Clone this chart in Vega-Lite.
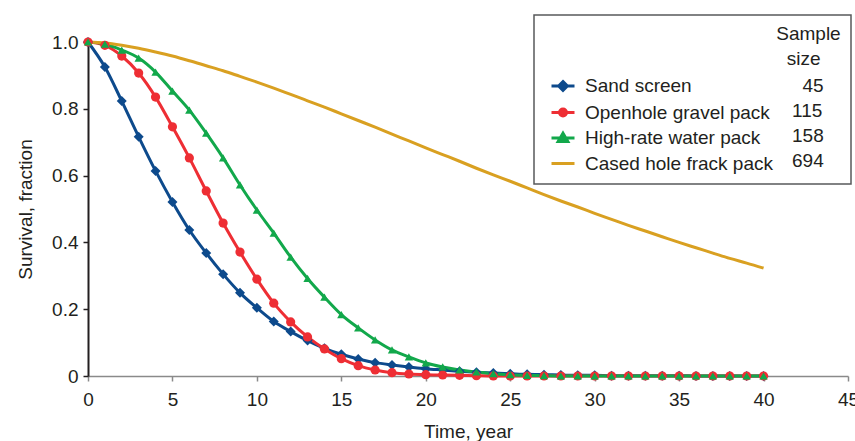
{
  "$schema": "https://vega.github.io/schema/vega-lite/v6.json",
  "width": 760,
  "height": 334,
  "autosize": {"type": "none"},
  "padding": {"left": 88, "top": 42, "right": 7, "bottom": 65},
  "background": "white",
  "config": {
    "view": {"stroke": null},
    "font": "Liberation Sans",
    "axis": {"grid": false, "labelFont": "Liberation Sans", "titleFont": "Liberation Sans", "labelFontSize": 19, "titleFontSize": 19, "titleFontWeight": "normal", "labelColor": "#231f20", "titleColor": "#231f20"},
    "legend": {"labelFont": "Liberation Sans", "titleFont": "Liberation Sans", "labelFontSize": 19, "titleFontSize": 19, "titleFontWeight": "normal", "labelColor": "#231f20", "titleColor": "#231f20"}
  },
  "data": {"values": [
    {"series":"Sand screen","n":45,"t":0,"s":1.0},{"series":"Sand screen","n":45,"t":1,"s":0.925},{"series":"Sand screen","n":45,"t":2,"s":0.823},{"series":"Sand screen","n":45,"t":3,"s":0.716},{"series":"Sand screen","n":45,"t":4,"s":0.614},{"series":"Sand screen","n":45,"t":5,"s":0.521},{"series":"Sand screen","n":45,"t":6,"s":0.437},{"series":"Sand screen","n":45,"t":7,"s":0.368},{"series":"Sand screen","n":45,"t":8,"s":0.305},{"series":"Sand screen","n":45,"t":9,"s":0.249},{"series":"Sand screen","n":45,"t":10,"s":0.204},{"series":"Sand screen","n":45,"t":11,"s":0.163},{"series":"Sand screen","n":45,"t":12,"s":0.133},{"series":"Sand screen","n":45,"t":13,"s":0.106},{"series":"Sand screen","n":45,"t":14,"s":0.083},{"series":"Sand screen","n":45,"t":15,"s":0.065},{"series":"Sand screen","n":45,"t":16,"s":0.051},{"series":"Sand screen","n":45,"t":17,"s":0.040},{"series":"Sand screen","n":45,"t":18,"s":0.033},{"series":"Sand screen","n":45,"t":19,"s":0.027},{"series":"Sand screen","n":45,"t":20,"s":0.022},{"series":"Sand screen","n":45,"t":21,"s":0.018},{"series":"Sand screen","n":45,"t":22,"s":0.014},{"series":"Sand screen","n":45,"t":23,"s":0.011},{"series":"Sand screen","n":45,"t":24,"s":0.009},{"series":"Sand screen","n":45,"t":25,"s":0.007},{"series":"Sand screen","n":45,"t":26,"s":0.005},{"series":"Sand screen","n":45,"t":27,"s":0.004},{"series":"Sand screen","n":45,"t":28,"s":0.003},{"series":"Sand screen","n":45,"t":29,"s":0.002},{"series":"Sand screen","n":45,"t":30,"s":0.002},{"series":"Sand screen","n":45,"t":31,"s":0.001},{"series":"Sand screen","n":45,"t":32,"s":0.001},{"series":"Sand screen","n":45,"t":33,"s":0.001},{"series":"Sand screen","n":45,"t":34,"s":0.001},{"series":"Sand screen","n":45,"t":35,"s":0.001},{"series":"Sand screen","n":45,"t":36,"s":0.0},{"series":"Sand screen","n":45,"t":37,"s":0.0},{"series":"Sand screen","n":45,"t":38,"s":0.0},{"series":"Sand screen","n":45,"t":39,"s":0.0},{"series":"Sand screen","n":45,"t":40,"s":0.0},
    {"series":"Openhole gravel pack","n":115,"t":0,"s":1.0},{"series":"Openhole gravel pack","n":115,"t":1,"s":0.99},{"series":"Openhole gravel pack","n":115,"t":2,"s":0.958},{"series":"Openhole gravel pack","n":115,"t":3,"s":0.907},{"series":"Openhole gravel pack","n":115,"t":4,"s":0.835},{"series":"Openhole gravel pack","n":115,"t":5,"s":0.746},{"series":"Openhole gravel pack","n":115,"t":6,"s":0.653},{"series":"Openhole gravel pack","n":115,"t":7,"s":0.554},{"series":"Openhole gravel pack","n":115,"t":8,"s":0.458},{"series":"Openhole gravel pack","n":115,"t":9,"s":0.371},{"series":"Openhole gravel pack","n":115,"t":10,"s":0.290},{"series":"Openhole gravel pack","n":115,"t":11,"s":0.218},{"series":"Openhole gravel pack","n":115,"t":12,"s":0.162},{"series":"Openhole gravel pack","n":115,"t":13,"s":0.117},{"series":"Openhole gravel pack","n":115,"t":14,"s":0.081},{"series":"Openhole gravel pack","n":115,"t":15,"s":0.052},{"series":"Openhole gravel pack","n":115,"t":16,"s":0.031},{"series":"Openhole gravel pack","n":115,"t":17,"s":0.018},{"series":"Openhole gravel pack","n":115,"t":18,"s":0.010},{"series":"Openhole gravel pack","n":115,"t":19,"s":0.006},{"series":"Openhole gravel pack","n":115,"t":20,"s":0.004},{"series":"Openhole gravel pack","n":115,"t":21,"s":0.003},{"series":"Openhole gravel pack","n":115,"t":22,"s":0.002},{"series":"Openhole gravel pack","n":115,"t":23,"s":0.001},{"series":"Openhole gravel pack","n":115,"t":24,"s":0.0},{"series":"Openhole gravel pack","n":115,"t":25,"s":0.0},{"series":"Openhole gravel pack","n":115,"t":26,"s":0.0},{"series":"Openhole gravel pack","n":115,"t":27,"s":0.0},{"series":"Openhole gravel pack","n":115,"t":28,"s":0.0},{"series":"Openhole gravel pack","n":115,"t":29,"s":0.0},{"series":"Openhole gravel pack","n":115,"t":30,"s":0.0},{"series":"Openhole gravel pack","n":115,"t":31,"s":0.0},{"series":"Openhole gravel pack","n":115,"t":32,"s":0.0},{"series":"Openhole gravel pack","n":115,"t":33,"s":0.0},{"series":"Openhole gravel pack","n":115,"t":34,"s":0.0},{"series":"Openhole gravel pack","n":115,"t":35,"s":0.0},{"series":"Openhole gravel pack","n":115,"t":36,"s":0.0},{"series":"Openhole gravel pack","n":115,"t":37,"s":0.0},{"series":"Openhole gravel pack","n":115,"t":38,"s":0.0},{"series":"Openhole gravel pack","n":115,"t":39,"s":0.0},{"series":"Openhole gravel pack","n":115,"t":40,"s":0.0},
    {"series":"High-rate water pack","n":158,"t":0,"s":1.0},{"series":"High-rate water pack","n":158,"t":1,"s":0.994},{"series":"High-rate water pack","n":158,"t":2,"s":0.976},{"series":"High-rate water pack","n":158,"t":3,"s":0.952},{"series":"High-rate water pack","n":158,"t":4,"s":0.910},{"series":"High-rate water pack","n":158,"t":5,"s":0.853},{"series":"High-rate water pack","n":158,"t":6,"s":0.796},{"series":"High-rate water pack","n":158,"t":7,"s":0.727},{"series":"High-rate water pack","n":158,"t":8,"s":0.653},{"series":"High-rate water pack","n":158,"t":9,"s":0.572},{"series":"High-rate water pack","n":158,"t":10,"s":0.497},{"series":"High-rate water pack","n":158,"t":11,"s":0.428},{"series":"High-rate water pack","n":158,"t":12,"s":0.356},{"series":"High-rate water pack","n":158,"t":13,"s":0.292},{"series":"High-rate water pack","n":158,"t":14,"s":0.236},{"series":"High-rate water pack","n":158,"t":15,"s":0.184},{"series":"High-rate water pack","n":158,"t":16,"s":0.144},{"series":"High-rate water pack","n":158,"t":17,"s":0.108},{"series":"High-rate water pack","n":158,"t":18,"s":0.078},{"series":"High-rate water pack","n":158,"t":19,"s":0.057},{"series":"High-rate water pack","n":158,"t":20,"s":0.039},{"series":"High-rate water pack","n":158,"t":21,"s":0.027},{"series":"High-rate water pack","n":158,"t":22,"s":0.018},{"series":"High-rate water pack","n":158,"t":23,"s":0.012},{"series":"High-rate water pack","n":158,"t":24,"s":0.007},{"series":"High-rate water pack","n":158,"t":25,"s":0.004},{"series":"High-rate water pack","n":158,"t":26,"s":0.002},{"series":"High-rate water pack","n":158,"t":27,"s":0.001},{"series":"High-rate water pack","n":158,"t":28,"s":0.0},{"series":"High-rate water pack","n":158,"t":29,"s":0.0},{"series":"High-rate water pack","n":158,"t":30,"s":0.0},{"series":"High-rate water pack","n":158,"t":31,"s":0.0},{"series":"High-rate water pack","n":158,"t":32,"s":0.0},{"series":"High-rate water pack","n":158,"t":33,"s":0.0},{"series":"High-rate water pack","n":158,"t":34,"s":0.0},{"series":"High-rate water pack","n":158,"t":35,"s":0.0},{"series":"High-rate water pack","n":158,"t":36,"s":0.0},{"series":"High-rate water pack","n":158,"t":37,"s":0.0},{"series":"High-rate water pack","n":158,"t":38,"s":0.0},{"series":"High-rate water pack","n":158,"t":39,"s":0.0},{"series":"High-rate water pack","n":158,"t":40,"s":0.0},
    {"series":"Cased hole frack pack","n":694,"t":0,"s":1.0},{"series":"Cased hole frack pack","n":694,"t":1,"s":0.997},{"series":"Cased hole frack pack","n":694,"t":2,"s":0.990},{"series":"Cased hole frack pack","n":694,"t":3,"s":0.981},{"series":"Cased hole frack pack","n":694,"t":4,"s":0.970},{"series":"Cased hole frack pack","n":694,"t":5,"s":0.958},{"series":"Cased hole frack pack","n":694,"t":6,"s":0.944},{"series":"Cased hole frack pack","n":694,"t":7,"s":0.929},{"series":"Cased hole frack pack","n":694,"t":8,"s":0.914},{"series":"Cased hole frack pack","n":694,"t":9,"s":0.897},{"series":"Cased hole frack pack","n":694,"t":10,"s":0.880},{"series":"Cased hole frack pack","n":694,"t":11,"s":0.862},{"series":"Cased hole frack pack","n":694,"t":12,"s":0.843},{"series":"Cased hole frack pack","n":694,"t":13,"s":0.824},{"series":"Cased hole frack pack","n":694,"t":14,"s":0.805},{"series":"Cased hole frack pack","n":694,"t":15,"s":0.785},{"series":"Cased hole frack pack","n":694,"t":16,"s":0.765},{"series":"Cased hole frack pack","n":694,"t":17,"s":0.745},{"series":"Cased hole frack pack","n":694,"t":18,"s":0.724},{"series":"Cased hole frack pack","n":694,"t":19,"s":0.704},{"series":"Cased hole frack pack","n":694,"t":20,"s":0.683},{"series":"Cased hole frack pack","n":694,"t":21,"s":0.663},{"series":"Cased hole frack pack","n":694,"t":22,"s":0.643},{"series":"Cased hole frack pack","n":694,"t":23,"s":0.622},{"series":"Cased hole frack pack","n":694,"t":24,"s":0.602},{"series":"Cased hole frack pack","n":694,"t":25,"s":0.583},{"series":"Cased hole frack pack","n":694,"t":26,"s":0.563},{"series":"Cased hole frack pack","n":694,"t":27,"s":0.543},{"series":"Cased hole frack pack","n":694,"t":28,"s":0.524},{"series":"Cased hole frack pack","n":694,"t":29,"s":0.506},{"series":"Cased hole frack pack","n":694,"t":30,"s":0.487},{"series":"Cased hole frack pack","n":694,"t":31,"s":0.469},{"series":"Cased hole frack pack","n":694,"t":32,"s":0.451},{"series":"Cased hole frack pack","n":694,"t":33,"s":0.434},{"series":"Cased hole frack pack","n":694,"t":34,"s":0.417},{"series":"Cased hole frack pack","n":694,"t":35,"s":0.400},{"series":"Cased hole frack pack","n":694,"t":36,"s":0.384},{"series":"Cased hole frack pack","n":694,"t":37,"s":0.368},{"series":"Cased hole frack pack","n":694,"t":38,"s":0.352},{"series":"Cased hole frack pack","n":694,"t":39,"s":0.338},{"series":"Cased hole frack pack","n":694,"t":40,"s":0.323}
  ]},
  "encoding": {
    "x": {"field": "t", "type": "quantitative", "scale": {"domain": [0, 45], "nice": false},
      "axis": {"values": [0,5,10,15,20,25,30,35,40,45], "title": "Time, year", "domainColor": "#8a8a8a", "domainWidth": 1.5, "tickColor": "#8a8a8a", "tickWidth": 1.5, "tickSize": 5, "labelPadding": 9, "titlePadding": 13, "labelFlush": false}},
    "y": {"field": "s", "type": "quantitative", "scale": {"domain": [0, 1], "nice": false},
      "axis": {"values": [0,0.2,0.4,0.6,0.8,1.0], "labelExpr": "datum.value == 0 ? '0' : format(datum.value, '.1f')", "title": "Survival, fraction", "domainColor": "#231f20", "domainWidth": 2, "tickColor": "#231f20", "tickWidth": 1.5, "tickSize": 5, "labelPadding": 5, "titlePadding": 16, "labelFlush": false}},
    "color": {"field": "series", "type": "nominal",
      "scale": {"domain": ["Sand screen", "Openhole gravel pack", "High-rate water pack", "Cased hole frack pack"], "range": ["#0d4a8c", "#ee2e34", "#12a84b", "#d9a021"]},
      "legend": {
        "orient": "none", "legendX": 446, "legendY": -27,
        "title": ["\u200b\u00a0\u00a0\u00a0\u00a0\u00a0\u00a0\u00a0\u00a0\u00a0\u00a0\u00a0\u00a0\u00a0\u00a0\u00a0\u00a0\u00a0\u00a0\u00a0\u00a0\u00a0\u00a0\u00a0\u00a0\u00a0\u00a0\u00a0\u00a0\u00a0\u00a0\u00a0\u00a0\u00a0\u00a0\u00a0\u00a0\u00a0\u00a0\u00a0\u00a0\u00a0\u00a0\u00a0\u00a0Sample", "\u200b\u00a0\u00a0\u00a0\u00a0\u00a0\u00a0\u00a0\u00a0\u00a0\u00a0\u00a0\u00a0\u00a0\u00a0\u00a0\u00a0\u00a0\u00a0\u00a0\u00a0\u00a0\u00a0\u00a0\u00a0\u00a0\u00a0\u00a0\u00a0\u00a0\u00a0\u00a0\u00a0\u00a0\u00a0\u00a0\u00a0\u00a0\u00a0\u00a0\u00a0\u00a0\u00a0\u00a0\u00a0\u00a0\u00a0size"], "titleAnchor": "start", "titleAlign": "left", "titleLineHeight": 25, "titlePadding": 4, "titleLimit": 600,
        "padding": 10, "strokeColor": "#58595b",
        "labelLimit": 500, "labelOffset": 9, "symbolOffset": 6, "symbolSize": 529, "rowPadding": 2.5, "symbolStrokeWidth": 2.5,
        "encode": {
          "legend": {"update": {"strokeWidth": {"value": 1.5}}},
          "symbols": {"update": {
            "shape": {"signal": "datum.value === 'Sand screen' ? 'M-1,0H1M0,-0.38L0.38,0L0,0.38L-0.38,0Z' : datum.value === 'Openhole gravel pack' ? 'M-1,0H1M0.3,0A0.3,0.3,0,1,1,-0.3,0A0.3,0.3,0,1,1,0.3,0Z' : datum.value === 'High-rate water pack' ? 'M-1,0H1M0,-0.42L0.42,0.3L-0.42,0.3Z' : 'M-1,0H1'"},
            "fill": {"scale": "color", "field": "value"},
            "stroke": {"scale": "color", "field": "value"},
            "strokeWidth": {"value": 2.5},
            "opacity": {"value": 1}
          }}
        }
      }
    }
  },
  "layer": [
    {
      "mark": {"type": "line", "interpolate": "monotone"},
      "encoding": {
        "strokeWidth": {"field": "series", "type": "nominal", "scale": {"domain": ["Sand screen", "Openhole gravel pack", "High-rate water pack", "Cased hole frack pack"], "range": [3, 3, 3, 2.2]}, "legend": null},
        "opacity": {"field": "n", "type": "ordinal", "scale": {"range": [1, 1, 1, 1]},
          "legend": {
            "orient": "none", "legendX": 685, "legendY": 34, "title": null, "padding": 0,
            "symbolSize": 0, "symbolOpacity": 0, "symbolStrokeWidth": 0, "symbolOffset": 0, "labelOffset": 0, "rowPadding": 5,
            "labelExpr": "datum.label == '45' ? '\u200b\u00a0\u00a0' + datum.label : datum.label"
          }
        }
      }
    },
    {
      "transform": [{"filter": {"field": "series", "oneOf": ["Sand screen", "Openhole gravel pack", "High-rate water pack"]}}],
      "mark": {"type": "point", "filled": true, "opacity": 1},
      "encoding": {
        "shape": {"field": "series", "type": "nominal", "scale": {"domain": ["Sand screen", "Openhole gravel pack", "High-rate water pack"], "range": ["diamond", "circle", "triangle-up"]}, "legend": null},
        "size": {"field": "series", "type": "nominal", "scale": {"domain": ["Sand screen", "Openhole gravel pack", "High-rate water pack"], "range": [100, 70, 140]}, "legend": null}
      }
    }
  ]
}
